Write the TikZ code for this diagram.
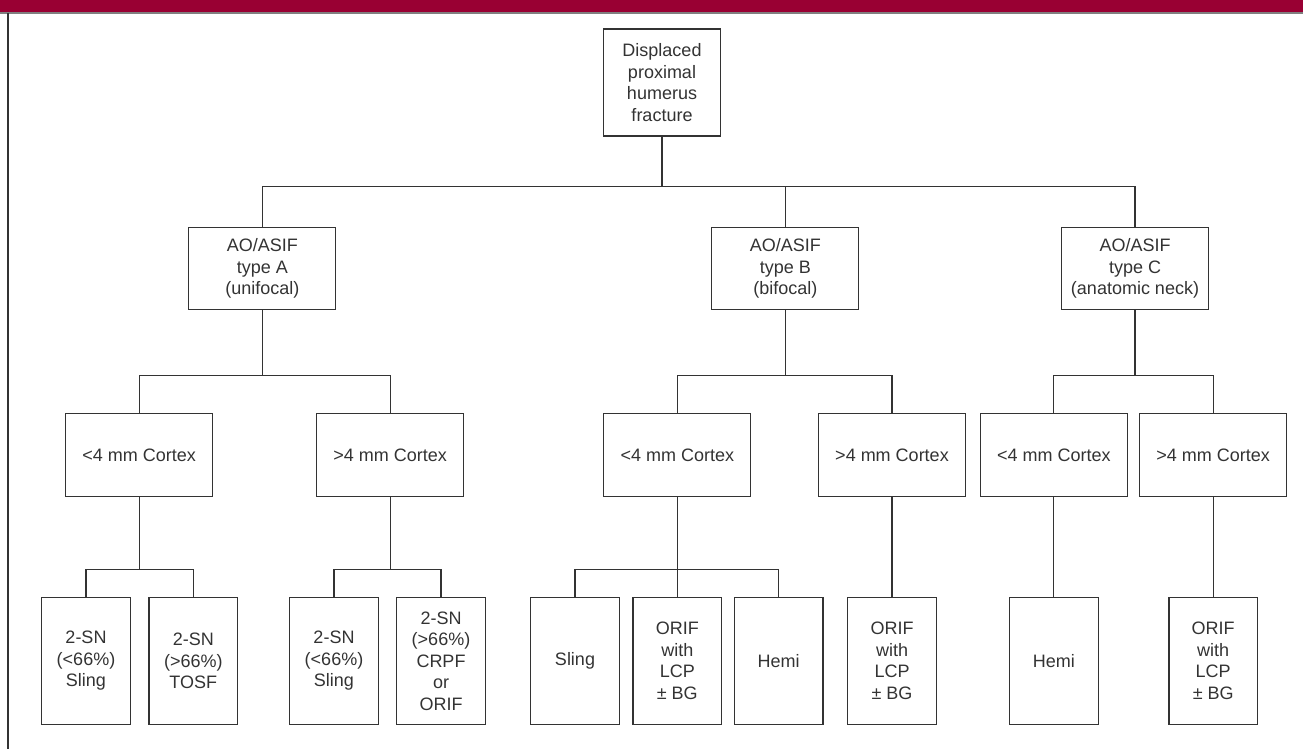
\documentclass[tikz,border=0pt]{standalone}
\usepackage{fontspec}
\setmainfont{Liberation Sans}
\definecolor{barred}{RGB}{153,0,51}
\definecolor{inkgray}{RGB}{51,51,51}
\tikzset{
	box/.style={draw=inkgray, line width=1.2pt, text=inkgray, align=center, inner sep=0pt,
		font=\fontsize{18}{21.5}\selectfont},
	topbox/.style={box, minimum width=117pt, minimum height=107pt},
	typebox/.style={box, minimum width=147pt, minimum height=82pt},
	cortexbox/.style={box, minimum width=147pt, minimum height=83pt},
	leafbox/.style={box, minimum width=88.6pt, minimum height=126.3pt},
	link/.style={draw=inkgray, line width=1.2pt}
}
\begin{document}
\begin{tikzpicture}[x=1pt, y=1pt]
		\useasboundingbox (0,0) rectangle (1303,-749);
		\fill[barred] (0,0) rectangle (1303,-12);
		\draw[gray, line width=1.5pt] (0,-13) -- (1303,-13);
		\draw[inkgray, line width=1.2pt] (8,-13) -- (8,-749);
		% tree levels
		\node[topbox] (top) at (662,-82.5) {Displaced\\proximal\\humerus\\fracture};
		\node[typebox] (A) at (262.3,-268.5) {AO/ASIF\\type A\\(unifocal)};
		\node[typebox] (B) at (785.3,-268.5) {AO/ASIF\\type B\\(bifocal)};
		\node[typebox] (C) at (1135,-268.5) {AO/ASIF\\type C\\(anatomic neck)};
		\node[cortexbox] (A1) at (139.2,-455.3) {<4 mm Cortex};
		\node[cortexbox] (A2) at (390.2,-455.3) {>4 mm Cortex};
		\node[cortexbox] (B1) at (677.3,-455.3) {<4 mm Cortex};
		\node[cortexbox] (B2) at (892,-455.3) {>4 mm Cortex};
		\node[cortexbox] (C1) at (1053.8,-455.3) {<4 mm Cortex};
		\node[cortexbox] (C2) at (1213.2,-455.3) {>4 mm Cortex};
		\node[leafbox] (A1a) at (86,-661) {2-SN\\(<66\%)\\Sling};
		\node[leafbox] (A1b) at (193.3,-661) {2-SN\\(>66\%)\\TOSF};
		\node[leafbox] (A2a) at (334,-661) {2-SN\\(<66\%)\\Sling};
		\node[leafbox] (A2b) at (441,-661) {2-SN\\(>66\%)\\CRPF\\or\\ORIF};
		\node[leafbox] (B1a) at (575,-661) {Sling};
		\node[leafbox] (B1b) at (677.3,-661) {ORIF\\with\\LCP\\± BG};
		\node[leafbox] (B1c) at (778.7,-661) {Hemi};
		\node[leafbox] (B2a) at (892,-661) {ORIF\\with\\LCP\\± BG};
		\node[leafbox] (C1a) at (1053.8,-661) {Hemi};
		\node[leafbox] (C2a) at (1213.2,-661) {ORIF\\with\\LCP\\± BG};
		% connectors
		\draw[link] (top.south) -- ++(0,-49.5) coordinate (s0);
		\draw[link] (A.north) |- (s0) -| (C.north);
		\draw[link] (B.north) -- (B.north |- s0);
		\draw[link] (A.south) -- ++(0,-65) coordinate (sA);
		\draw[link] (A1.north) |- (sA) -| (A2.north);
		\draw[link] (B.south) -- ++(0,-65) coordinate (sB);
		\draw[link] (B1.north) |- (sB) -| (B2.north);
		\draw[link] (C.south) -- ++(0,-65) coordinate (sC);
		\draw[link] (C1.north) |- (sC) -| (C2.north);
		\draw[link] (A1.south) -- ++(0,-71.7) coordinate (sA1);
		\draw[link] (A1a.north) |- (sA1) -| (A1b.north);
		\draw[link] (A2.south) -- ++(0,-71.7) coordinate (sA2);
		\draw[link] (A2a.north) |- (sA2) -| (A2b.north);
		\draw[link] (B1.south) -- (B1b.north);
		\draw[link] (B1a.north) |- (B1b.north |- sA1) -| (B1c.north);
		\draw[link] (B2.south) -- (B2a.north);
		\draw[link] (C1.south) -- (C1a.north);
		\draw[link] (C2.south) -- (C2a.north);
	\end{tikzpicture}
\end{document}
